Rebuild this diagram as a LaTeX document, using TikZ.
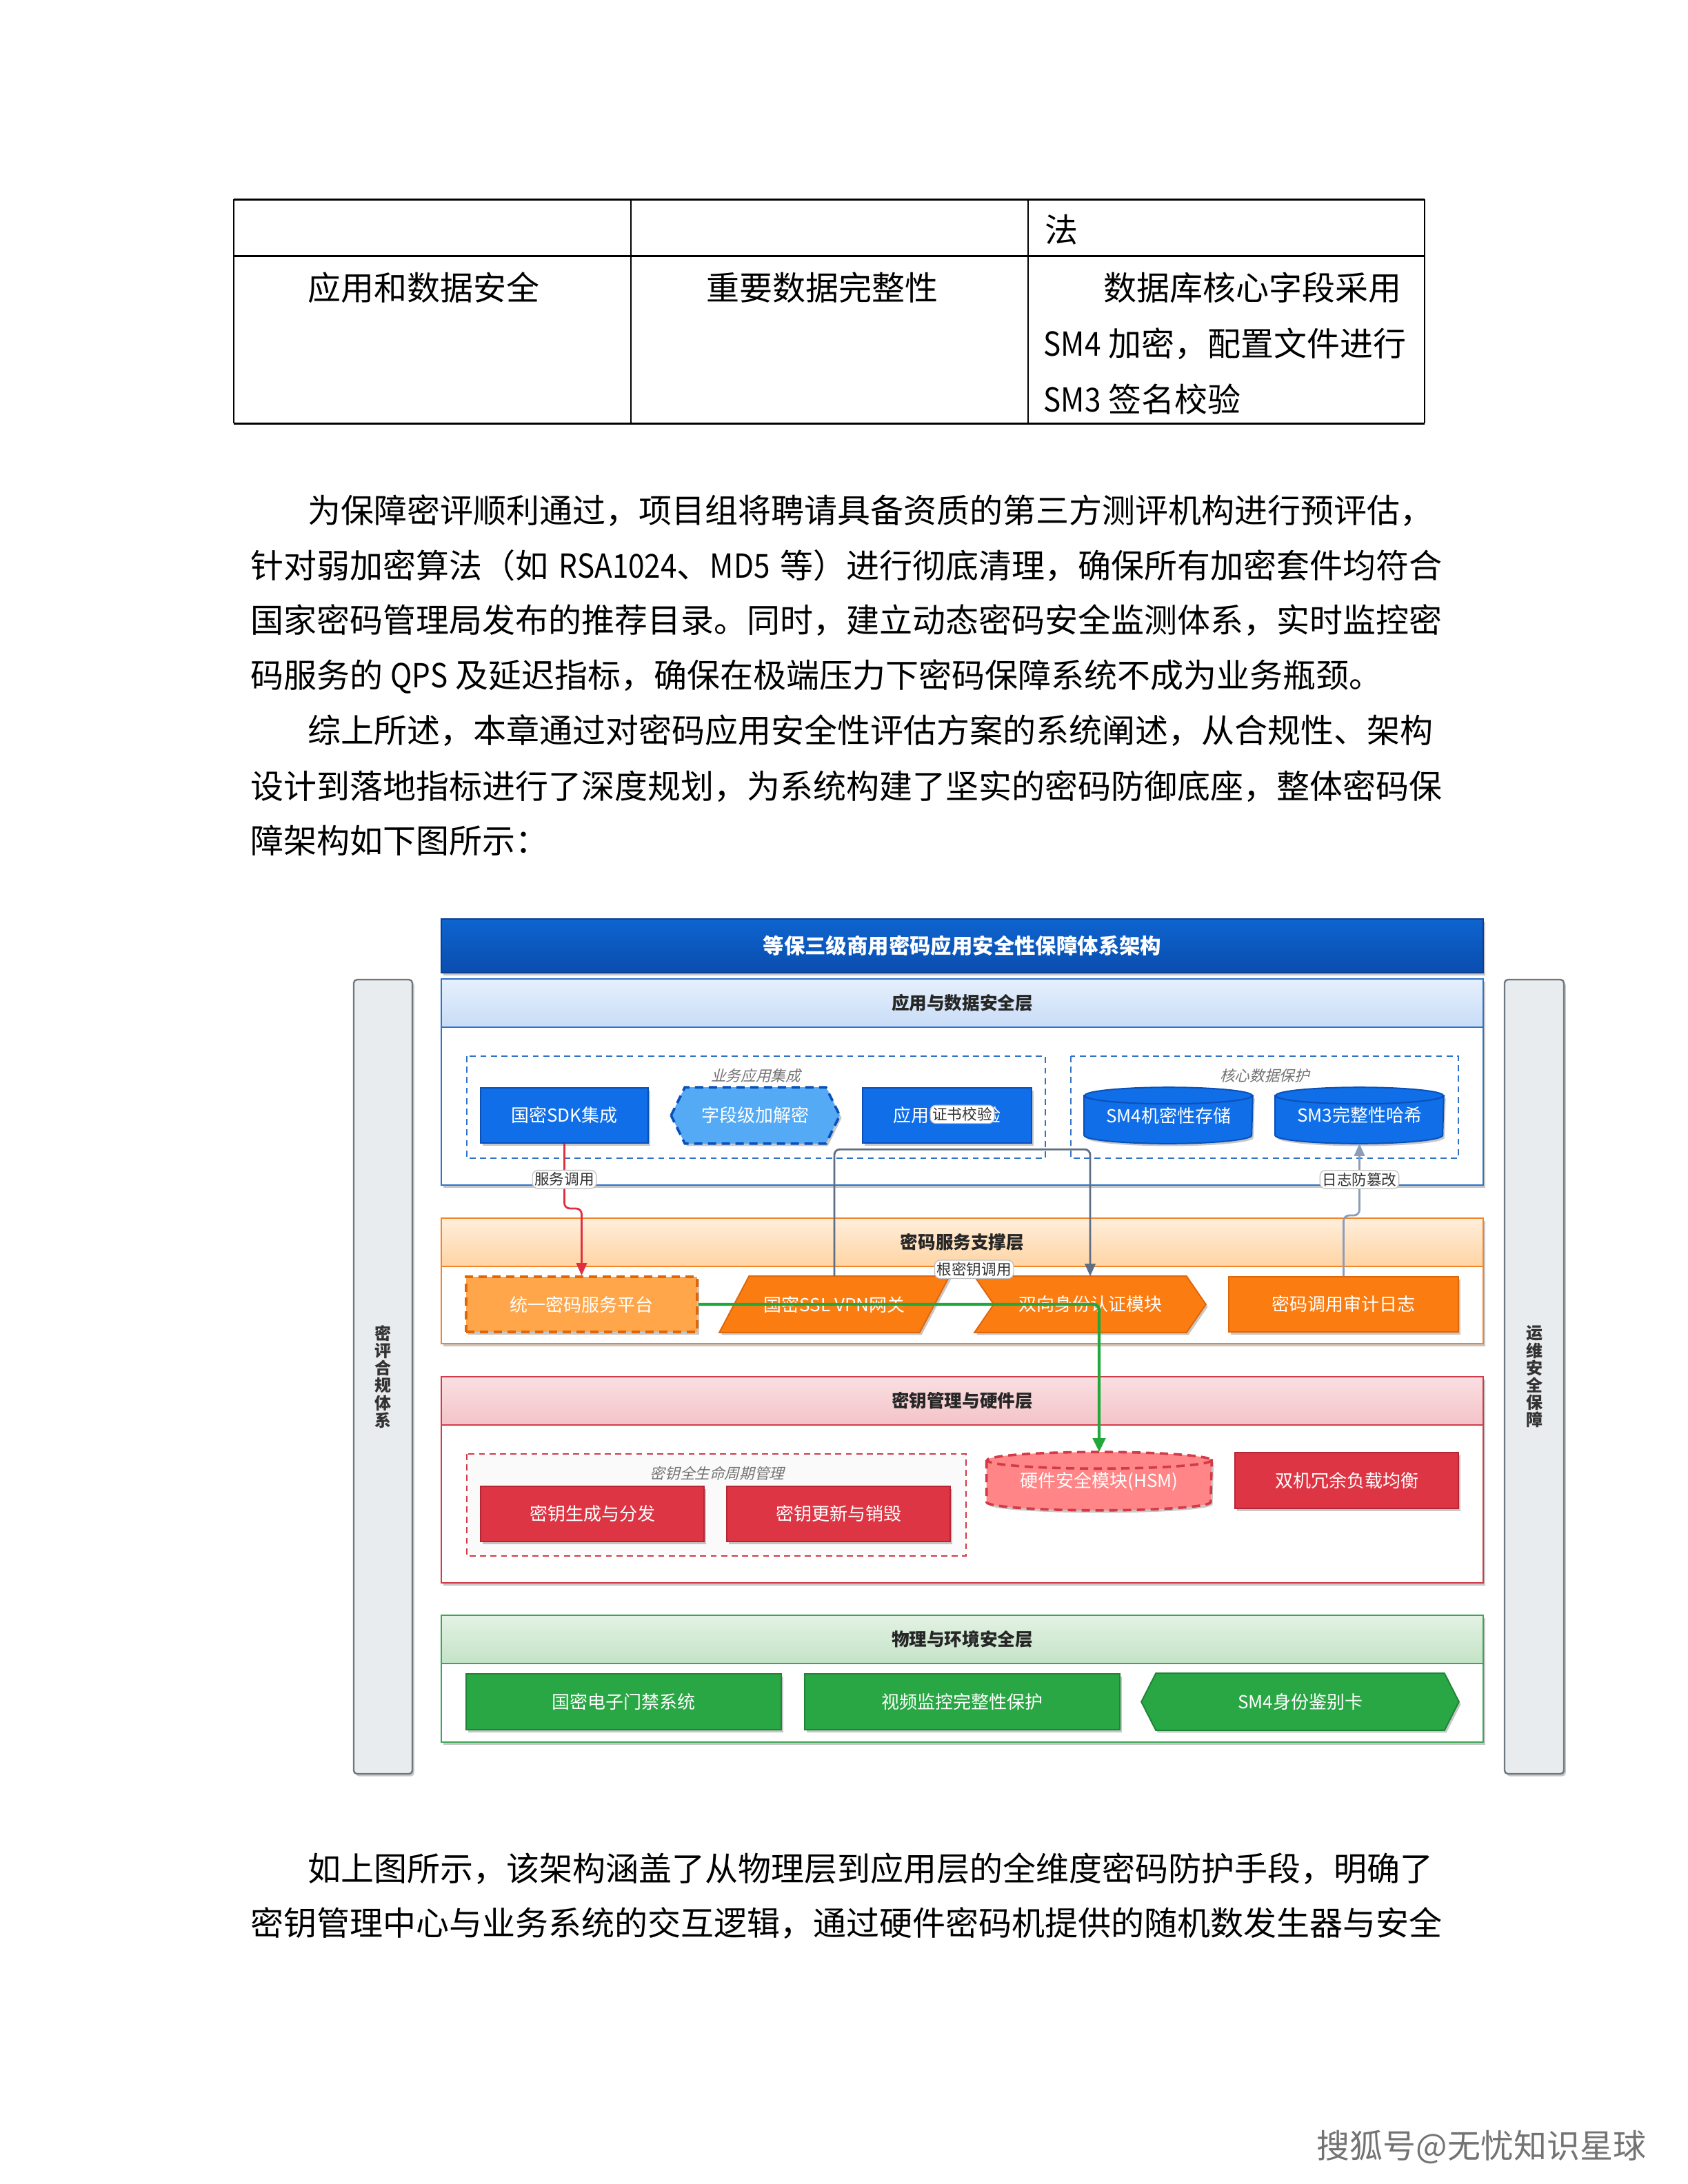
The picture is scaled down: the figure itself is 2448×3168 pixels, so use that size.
\documentclass[tikz,border=0pt]{standalone}
\usepackage{fontspec}
\setmainfont{Noto Sans CJK SC}
\newfontfamily\slantfont{Noto Sans CJK SC}[FakeSlant=0.25]
\newfontfamily\narrowfont{Noto Sans CJK SC}[FakeStretch=0.88]
\usetikzlibrary{arrows.meta,shadows,calc}
\pgfdeclarelayer{bg}
\pgfdeclarelayer{shapes}
\pgfsetlayers{bg,shapes,main}
\definecolor{titletop}{HTML}{0E64CF}
\definecolor{titlebot}{HTML}{0A4DAE}
\definecolor{titleline}{HTML}{0A3F94}
\definecolor{blueN}{HTML}{0F6EE8}
\definecolor{blueD}{HTML}{0A50B8}
\definecolor{blueL}{HTML}{55AAF5}
\definecolor{blueLine}{HTML}{2F73C9}
\definecolor{blueHt}{HTML}{E6F0FD}
\definecolor{blueHb}{HTML}{C8DCF6}
\definecolor{orN}{HTML}{FB7D12}
\definecolor{orD}{HTML}{E0660A}
\definecolor{orL}{HTML}{FFA64A}
\definecolor{orLine}{HTML}{F2842A}
\definecolor{orHt}{HTML}{FFEEDC}
\definecolor{orHb}{HTML}{FFD4A3}
\definecolor{redN}{HTML}{DE3545}
\definecolor{redD}{HTML}{B52533}
\definecolor{redL}{HTML}{FF8587}
\definecolor{redLine}{HTML}{D23A48}
\definecolor{redHt}{HTML}{FADFE2}
\definecolor{redHb}{HTML}{F3C3C8}
\definecolor{grN}{HTML}{2AA745}
\definecolor{grD}{HTML}{1D8536}
\definecolor{grLine}{HTML}{3BA755}
\definecolor{grHt}{HTML}{E4F2E4}
\definecolor{grHb}{HTML}{C3E3C6}
\definecolor{sidefill}{HTML}{E9ECEF}
\definecolor{sideline}{HTML}{6E7780}
\definecolor{certedge}{HTML}{5F6E82}
\definecolor{logedge}{HTML}{8C9DB8}
\definecolor{redEdge}{HTML}{E0303F}
\definecolor{greenEdge}{HTML}{22A83A}
\newcommand\myhex[4]{%
  \begin{pgfonlayer}{shapes}
  \path[fill=#3,#4,nshadow] (#1.west) -- ($(#1.north west)+(#2,0)$) -- ($(#1.north east)+(-#2,0)$) -- (#1.east) -- ($(#1.south east)+(-#2,0)$) -- ($(#1.south west)+(#2,0)$) -- cycle;
  \end{pgfonlayer}}
\newcommand\mycyl[4]{%
  \begin{pgfonlayer}{shapes}
  \path[fill=#3,#4,nshadow] ($(#1.north west)+(0,12)$) -- ($(#1.south west)+(0,-12)$) arc[start angle=180, end angle=0, x radius=#2, y radius=12] -- ($(#1.north east)+(0,12)$) -- cycle;
  \path[fill=#3,#4] ($(#1.north)+(0,12)$) ellipse[x radius=#2, y radius=12];
  \end{pgfonlayer}}
\begin{document}
\begin{tikzpicture}[x=0.25pt,y=-0.25pt,
  sz/.style 2 args={minimum width=#1*0.25pt, minimum height=#2*0.25pt},
  body/.style={anchor=base west, inner sep=0pt, font=\fontsize{12}{20}\selectfont},
  nshadow/.style={drop shadow={shadow xshift=0.7pt, shadow yshift=-0.9pt, opacity=0.22, fill=black}},
  box/.style={rectangle, inner sep=0pt, text=white, font=\fontsize{6.5}{7}\selectfont, line width=0.5pt, nshadow},
  free/.style={rectangle, inner sep=0pt, text=white, font=\fontsize{6.5}{7}\selectfont},
  hdr/.style={rectangle, inner sep=0pt, line width=0.6pt, font=\fontsize{6.4}{7}\selectfont\bfseries, text=black!85},
  grp/.style={line width=0.6pt, dash pattern=on 2.2pt off 1.6pt},
  glabel/.style={inner sep=0pt, text=black!55, font={\fontsize{5.4}{6}\selectfont\slantfont}},
  elabel/.style={fill=white, draw=black!25, line width=0.3pt, inner sep=0.8pt, text=black!80, font=\fontsize{5.4}{6}\selectfont},
  side/.style={rectangle, rounded corners=1.2pt, fill=sidefill, draw=sideline, line width=0.6pt, inner sep=0pt, align=center, font=\fontsize{6}{6.3}\selectfont\bfseries, text=black!80, nshadow},
  tip/.style={-{Triangle[length=4.5pt,width=3.8pt]}},
  tbl/.style={line width=0.75pt, black}
]
\useasboundingbox (0,0) rectangle (2448,3168);

% ---------- table ----------
\draw[tbl] (339,289) -- (2066,289);
\draw[tbl] (339,371) -- (2066,371);
\draw[tbl] (339,614) -- (2066,614);
\draw[line width=0.5pt] (339,289) -- (339,614);
\draw[line width=0.5pt] (915,289) -- (915,614);
\draw[line width=0.5pt] (1491,289) -- (1491,614);
\draw[line width=0.5pt] (2066,289) -- (2066,614);
\node[body] (t0) at (1515,352) {法};
\node[body] (t1) at (446,435) {应用和数据安全};
\node[body] (t2) at (1024,435) {重要数据完整性};
\node[body] (t3) at (1600,435) {数据库核心字段采用};
\node[body] (t4) at (1513,516) {{\narrowfont SM4} 加密，配置文件进行};
\node[body] (t5) at (1513,597) {{\narrowfont SM3} 签名校验};

% ---------- paragraphs ----------
\node[body] (p1) at (446,758) {为保障密评顺利通过，项目组将聘请具备资质的第三方测评机构进行预评估，};
\node[body] (p2) at (363,838) {\makebox[432pt][s]{针对弱加密算法（如 {\narrowfont RSA1024}、{\narrowfont MD5} 等）进行彻底清理，确保所有加密套件均符合}};
\node[body] (p3) at (363,917) {国家密码管理局发布的推荐目录。同时，建立动态密码安全监测体系，实时监控密};
\node[body] (p4) at (363,997) {码服务的 {\narrowfont QPS} 及延迟指标，确保在极端压力下密码保障系统不成为业务瓶颈。};
\node[body] (p5) at (446,1077) {综上所述，本章通过对密码应用安全性评估方案的系统阐述，从合规性、架构};
\node[body] (p6) at (363,1158) {设计到落地指标进行了深度规划，为系统构建了坚实的密码防御底座，整体密码保};
\node[body] (p7) at (363,1237) {障架构如下图所示：};
\node[body] (p8) at (446,2728) {如上图所示，该架构涵盖了从物理层到应用层的全维度密码防护手段，明确了};
\node[body] (p9) at (363,2807) {密钥管理中心与业务系统的交互逻辑，通过硬件密码机提供的随机数发生器与安全};

% ---------- containers ----------
\begin{pgfonlayer}{bg}
\fill[white] (0,0) rectangle (2448,3168);
\path[fill=white, draw=blueLine, line width=0.6pt, nshadow] (640,1420) rectangle (2151,1719);
\path[fill=white, draw=orLine, line width=0.6pt, nshadow] (640,1767) rectangle (2151,1949);
\path[fill=white, draw=redLine, line width=0.6pt, nshadow] (640,1997) rectangle (2151,2296);
\path[fill=white, draw=grLine, line width=0.6pt, nshadow] (640,2343) rectangle (2151,2527);
\path[fill=white, draw=blueLine, grp] (677,1532) rectangle (1516,1680);
\path[fill=white, draw=blueLine, grp] (1553,1532) rectangle (2115,1680);
\path[fill=black!2, draw=redLine, grp] (677,2109) rectangle (1401,2257);
\end{pgfonlayer}

% ---------- title & headers ----------
\node[rectangle, sz={1511}{78}, top color=titletop, bottom color=titlebot, draw=titleline, line width=0.6pt, text=white, font=\fontsize{7.6}{8}\selectfont\bfseries, nshadow] (title) at (1395.5,1372) {等保三级商用密码应用安全性保障体系架构};
\node[hdr, sz={1511}{70}, top color=blueHt, bottom color=blueHb, draw=blueLine] (hA) at (1395.5,1455) {应用与数据安全层};
\node[hdr, sz={1511}{70}, top color=orHt, bottom color=orHb, draw=orLine] (hB) at (1395.5,1802) {密码服务支撑层};
\node[hdr, sz={1511}{70}, top color=redHt, bottom color=redHb, draw=redLine] (hC) at (1395.5,2032) {密钥管理与硬件层};
\node[hdr, sz={1511}{70}, top color=grHt, bottom color=grHb, draw=grLine] (hD) at (1395.5,2378) {物理与环境安全层};

\node[glabel] (gl1) at (1096,1560) {业务应用集成};
\node[glabel] (gl2) at (1834,1560) {核心数据保护};
\node[glabel] (gl3) at (1040,2137) {密钥全生命周期管理};

% ---------- side bars ----------
\node[side, sz={85}{1152}] (lbar) at (555.5,1997) {密\\评\\合\\规\\体\\系};
\node[side, sz={86}{1152}] (rbar) at (2225,1997) {运\\维\\安\\全\\保\\障};

% ---------- layer 1 ----------
\node[box, sz={243}{80}, fill=blueN, draw=blueD] (sdk) at (818.5,1618) {国密SDK集成};
\node[free, sz={243}{80}] (field) at (1095.5,1618) {字段级加解密};
\myhex{field}{20}{blueL}{draw=blueD, line width=0.9pt, dash pattern=on 3pt off 2pt}
\node[box, sz={245}{80}, fill=blueN, draw=blueD] (cert) at (1373.5,1618) {应用证书校验};
\node[free, sz={243}{80}] (sm4) at (1694.5,1618) {SM4机密性存储};
\mycyl{sm4}{121.5}{blueN}{draw=blueD, line width=0.5pt}
\node[free, sz={243}{80}] (sm3) at (1971.5,1618) {SM3完整性哈希};
\mycyl{sm3}{121.5}{blueN}{draw=blueD, line width=0.5pt}

% ---------- layer 2 ----------
\node[box, sz={335}{80}, fill=orL, draw=orD, line width=0.9pt, dash pattern=on 3pt off 2pt] (unified) at (843.5,1892) {统一密码服务平台};
\node[free, sz={332}{80}] (vpn) at (1210,1892) {国密SSL VPN网关};
\begin{pgfonlayer}{shapes}
\path[fill=orN, draw=orD, line width=0.5pt, nshadow] ($(vpn.north west)+(43,0)$) -- (vpn.north east) -- ($(vpn.south east)+(-43,0)$) -- (vpn.south west) -- cycle;
\end{pgfonlayer}
\node[free, sz={334}{80}] (auth) at (1581,1892) {双向身份认证模块};
\begin{pgfonlayer}{shapes}
\path[fill=orN, draw=orD, line width=0.5pt, nshadow] (auth.north west) -- ($(auth.north east)+(-28,0)$) -- (auth.east) -- ($(auth.south east)+(-28,0)$) -- (auth.south west) -- ($(auth.west)+(28,0)$) -- cycle;
\end{pgfonlayer}
\node[box, sz={333}{80}, fill=orN, draw=orD] (audit) at (1948.5,1892) {密码调用审计日志};

% ---------- layer 3 ----------
\node[box, sz={324}{80}, fill=redN, draw=redD] (keygen) at (859,2196) {密钥生成与分发};
\node[box, sz={324}{80}, fill=redN, draw=redD] (keyupd) at (1216,2196) {密钥更新与销毁};
\node[free, sz={325}{83}] (hsm) at (1594,2148.5) {硬件安全模块(HSM)};
\mycyl{hsm}{162.5}{redL}{draw=redLine, line width=0.9pt, dash pattern=on 3pt off 2pt}
\node[box, sz={324}{81}, fill=redN, draw=redD] (dual) at (1953,2147.5) {双机冗余负载均衡};

% ---------- layer 4 ----------
\node[box, sz={457}{81}, fill=grN, draw=grD] (door) at (904.5,2468.5) {国密电子门禁系统};
\node[box, sz={457}{81}, fill=grN, draw=grD] (video) at (1395.5,2468.5) {视频监控完整性保护};
\node[free, sz={459}{81}] (card) at (1885.5,2468.5) {SM4身份鉴别卡};
\myhex{card}{21}{grN}{draw=grD, line width=0.5pt}

% ---------- connectors ----------
\draw[tip, redEdge, line width=0.7pt, rounded corners=2pt] (sdk.south) -- node[elabel, pos=0.55] (lab1) {服务调用} ($(sdk.south)+(0,94)$) -| (unified.north);
\draw[tip, certedge, line width=0.7pt, rounded corners=2pt] (vpn.north) -- ($(vpn.north)+(0,-184)$) -| node[elabel, pos=0.25, yshift=12.7pt] (lab2) {证书校验} (auth.north);
\draw[tip, logedge, line width=0.7pt, rounded corners=2pt] (audit.north) -- ($(audit.north)+(0,-88)$) -| node[elabel, pos=0.75] (lab3) {日志防篡改} (sm3.south);
\draw[-{Triangle[length=5pt,width=4.5pt]}, greenEdge, line width=1.1pt, rounded corners=2pt] (unified.east) -| node[elabel, pos=0.344, yshift=12.7pt] (lab4) {根密钥调用} (hsm.north);

% ---------- footer mark ----------
\node[anchor=base west, inner sep=0pt, text=black!55, font=\fontsize{12}{14}\selectfont] (wm) at (1909,3130) {搜狐号@无忧知识星球};
\end{tikzpicture}
\end{document}
